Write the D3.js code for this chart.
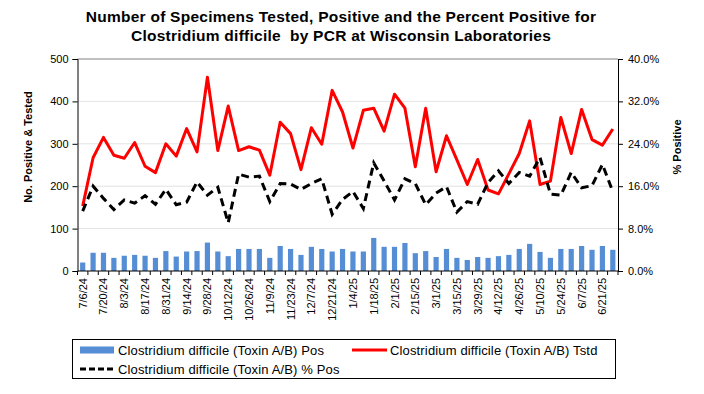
<!DOCTYPE html>
<html><head><meta charset="utf-8">
<script src="https://cdn.jsdelivr.net/npm/d3@7"></script>
<style>
html,body{margin:0;padding:0;background:#fff;}
svg{display:block;font-family:"Liberation Sans",Arial,sans-serif;}
</style></head>
<body><svg id="c" width="704" height="394"></svg>
<script>
const weeks = ["7/6/24","7/13/24","7/20/24","7/27/24","8/3/24","8/10/24","8/17/24","8/24/24","8/31/24","9/7/24","9/14/24","9/21/24","9/28/24","10/5/24","10/12/24","10/19/24","10/26/24","11/2/24","11/9/24","11/16/24","11/23/24","11/30/24","12/7/24","12/14/24","12/21/24","12/28/24","1/4/25","1/11/25","1/18/25","1/25/25","2/1/25","2/8/25","2/15/25","2/22/25","3/1/25","3/8/25","3/15/25","3/22/25","3/29/25","4/5/25","4/12/25","4/19/25","4/26/25","5/3/25","5/10/25","5/17/25","5/24/25","5/31/25","6/7/25","6/14/25","6/21/25","6/28/25"];
const positive = [20,43,43,31,36,38,36,31,47,34,46,47,67,46,35,52,52,52,31,59,52,38,57,52,46,52,46,46,78,57,57,66,42,47,33,52,31,26,33,31,35,38,52,64,45,31,52,52,59,50,59,50];
const tested = [153,267,315,273,266,303,247,232,300,271,336,281,457,284,389,284,293,285,226,351,324,239,338,299,426,375,290,379,384,330,417,384,246,384,234,319,262,204,263,191,182,229,277,354,204,212,362,277,381,310,297,335];
const pctPos = [11.3,16.0,13.7,11.6,13.4,12.8,14.2,12.6,15.4,12.5,13.0,16.8,14.3,15.8,9.1,18.3,17.7,17.9,13.1,16.5,16.4,15.4,16.5,17.4,10.7,13.5,15.0,11.8,20.4,17.0,13.4,17.4,16.5,12.5,14.7,15.9,11.1,13.1,12.6,16.7,18.9,16.5,18.6,17.9,21.4,14.5,14.3,18.6,15.7,16.1,20.1,15.0];
const leftTicks = [0,100,200,300,400,500];
const rightTicks = [0,8,16,24,32,40];
const title = ["Number of Specimens Tested, Positive and the Percent Positive for","Clostridium difficile  by PCR at Wisconsin Laboratories"];
const seriesNames = ["Clostridium difficile (Toxin A/B) Pos","Clostridium difficile (Toxin A/B) Tstd","Clostridium difficile (Toxin A/B) % Pos"];

const svg = d3.select("#c");
const L=77.5, R=618, T=59, B=271;
const x = d3.scaleBand().domain(weeks).range([L,R]).paddingInner(0).paddingOuter(0);
const yL = d3.scaleLinear().domain([0,500]).range([B,T]);
const yR = d3.scaleLinear().domain([0,40]).range([B,T]);

// gridlines
svg.append("g").selectAll("line").data(leftTicks.filter(d=>d>0&&d<500)).join("line")
  .attr("x1",L).attr("x2",R).attr("y1",d=>yL(d)).attr("y2",d=>yL(d))
  .attr("stroke","#e3e3e3").attr("stroke-width",1);
// top border
svg.append("line").attr("x1",L).attr("x2",R).attr("y1",T).attr("y2",T).attr("stroke","#808080").attr("stroke-width",1);

// bars
const bw = x.bandwidth()*0.5;
svg.append("g").selectAll("rect").data(weeks).join("rect")
  .attr("x",(d)=>x(d)+(x.bandwidth()-bw)/2)
  .attr("y",(d,i)=>yL(positive[i]))
  .attr("width",bw)
  .attr("height",(d,i)=>B-yL(positive[i]))
  .attr("fill","#558ed5");

// red line
const cx = d=>x(d)+x.bandwidth()/2;
svg.append("path").datum(weeks)
  .attr("d",d3.line().x(d=>cx(d)).y((d,i)=>yL(tested[i])))
  .attr("fill","none").attr("stroke","#ff0000").attr("stroke-width",3).attr("stroke-linejoin","round");
// dashed
svg.append("path").datum(weeks)
  .attr("d",d3.line().x(d=>cx(d)).y((d,i)=>yR(pctPos[i])))
  .attr("fill","none").attr("stroke","#000").attr("stroke-width",3).attr("stroke-dasharray","8,5");

// axes
const axL = svg.append("g").attr("transform",`translate(${L},0)`)
  .call(d3.axisLeft(yL).tickValues(leftTicks).tickSize(5).tickPadding(4).tickFormat(d3.format("d")));
const axR = svg.append("g").attr("transform",`translate(${R},0)`)
  .call(d3.axisRight(yR).tickValues(rightTicks).tickSize(5).tickPadding(5).tickFormat(d=>d.toFixed(1)+"%"));
[axL,axR].forEach(a=>{a.select(".domain").attr("stroke","#000");a.selectAll("text").attr("font-size",11).attr("fill","#000").attr("font-family","Liberation Sans, Arial, sans-serif");a.selectAll(".tick line").attr("stroke","#000");});

// x axis
const axB = svg.append("g").attr("transform",`translate(0,${B})`);
axB.append("line").attr("x1",L).attr("x2",R).attr("stroke","#000");
axB.selectAll("line.tk").data(weeks.concat(["__end"])).join("line").attr("class","tk")
  .attr("x1",(d,i)=>L+i*x.step()).attr("x2",(d,i)=>L+i*x.step()).attr("y1",0).attr("y2",4).attr("stroke","#000");
axB.selectAll("text").data(weeks.filter((d,i)=>i%2===0)).join("text")
  .attr("transform",d=>`translate(${cx(d)+4},7) rotate(-90)`)
  .attr("text-anchor","end").attr("font-size",11).attr("fill","#000").text(d=>d);

// titles
svg.append("g").selectAll("text").data(title).join("text")
  .attr("x",341).attr("y",(d,i)=>22+i*18.5).attr("text-anchor","middle")
  .style("white-space","pre").style("letter-spacing","0.25px")
  .attr("font-weight","bold").attr("font-size",15.5).text(d=>d);
svg.append("text").attr("transform","translate(32,147) rotate(-90)").attr("text-anchor","middle")
  .attr("font-weight","bold").attr("font-size",11).text("No. Positive & Tested");
svg.append("text").attr("transform","translate(681,147) rotate(-90)").attr("text-anchor","middle")
  .attr("font-weight","bold").attr("font-size",11).text("% Positive");

// legend
const lg = svg.append("g");
lg.append("rect").attr("x",72.5).attr("y",339.5).attr("width",543).attr("height",39).attr("fill","#fff").attr("stroke","#000");
const items = [
  {n:seriesNames[0],x:80,y:350,type:"bar"},
  {n:seriesNames[1],x:352,y:350,type:"red"},
  {n:seriesNames[2],x:80,y:369,type:"dash"}];
items.forEach(it=>{
  if(it.type==="bar") lg.append("rect").attr("x",it.x).attr("y",it.y-3.5).attr("width",34).attr("height",7).attr("fill","#558ed5");
  else lg.append("line").attr("x1",it.x).attr("x2",it.x+35).attr("y1",it.y).attr("y2",it.y)
    .attr("stroke",it.type==="red"?"#ff0000":"#000").attr("stroke-width",3).attr("stroke-dasharray",it.type==="dash"?"6,3":null);
  lg.append("text").attr("x",it.x+38).attr("y",it.y+4.5).attr("font-size",13).style("letter-spacing","0.15px").attr("fill","#000").text(it.n);
});
</script></body></html>
